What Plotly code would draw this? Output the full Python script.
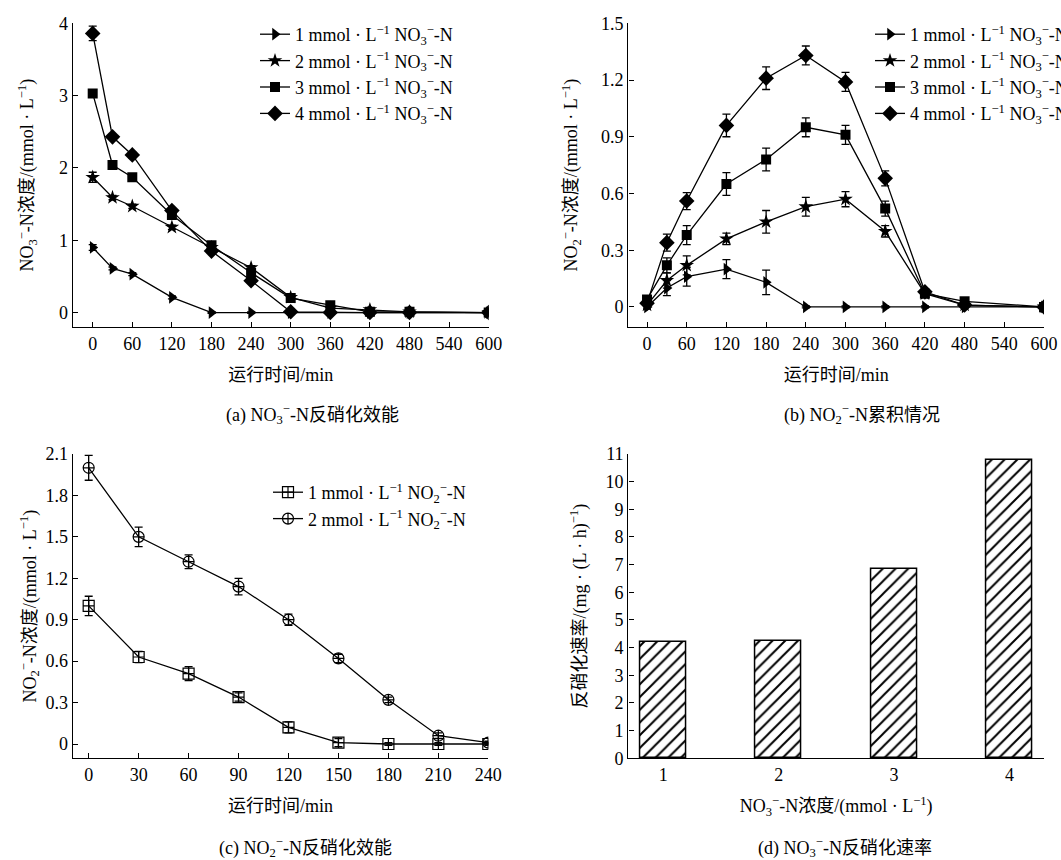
import plotly.graph_objects as go

W, H = 1061, 860
FONT = "Liberation Serif, 'Times New Roman', 'Noto Sans CJK SC', serif"

# ---------------- data ----------------
# (a) NO3- removal
t_a = [0, 30, 60, 120, 180, 240, 300, 360, 420, 480, 600]
a_1 = [0.90, 0.61, 0.53, 0.21, 0.00, 0.00, 0.00, 0.00, 0.00, 0.00, 0.00]
a_2 = [1.87, 1.59, 1.47, 1.18, 0.90, 0.62, 0.21, 0.06, 0.04, 0.01, 0.00]
a_3 = [3.03, 2.04, 1.87, 1.35, 0.93, 0.55, 0.20, 0.10, 0.01, 0.01, 0.00]
a_4 = [3.86, 2.43, 2.18, 1.41, 0.85, 0.44, 0.01, 0.00, 0.00, 0.00, 0.00]
a_1_err = [0.04, 0.02, 0.02, 0.02, 0.01, 0.01, 0.01, 0.01, 0.01, 0.01, 0.01]
a_2_err = [0.07, 0.03, 0.03, 0.03, 0.03, 0.03, 0.03, 0.02, 0.02, 0.01, 0.01]
a_3_err = [0.05, 0.02, 0.02, 0.03, 0.03, 0.03, 0.03, 0.02, 0.01, 0.01, 0.01]
a_4_err = [0.10, 0.03, 0.04, 0.03, 0.03, 0.03, 0.01, 0.01, 0.01, 0.01, 0.01]

# (b) NO2- accumulation
t_b = [0, 30, 60, 120, 180, 240, 300, 360, 420, 480, 600]
b_1 = [0.00, 0.10, 0.16, 0.20, 0.13, 0.00, 0.00, 0.00, 0.00, 0.00, 0.00]
b_2 = [0.01, 0.14, 0.22, 0.36, 0.45, 0.53, 0.57, 0.40, 0.07, 0.01, 0.00]
b_3 = [0.04, 0.22, 0.38, 0.65, 0.78, 0.95, 0.91, 0.52, 0.07, 0.03, 0.00]
b_4 = [0.02, 0.34, 0.56, 0.96, 1.21, 1.33, 1.19, 0.68, 0.08, 0.01, 0.00]
b_1_err = [0.01, 0.04, 0.05, 0.05, 0.065, 0.005, 0.005, 0.005, 0.005, 0.005, 0.005]
b_2_err = [0.01, 0.04, 0.05, 0.03, 0.06, 0.05, 0.04, 0.03, 0.01, 0.01, 0.005]
b_3_err = [0.01, 0.04, 0.05, 0.06, 0.06, 0.05, 0.05, 0.04, 0.01, 0.01, 0.005]
b_4_err = [0.01, 0.045, 0.045, 0.06, 0.06, 0.05, 0.05, 0.04, 0.01, 0.01, 0.005]

# (c) NO2- removal
t_c = [0, 30, 60, 90, 120, 150, 180, 210, 240]
c_1 = [1.00, 0.63, 0.51, 0.34, 0.12, 0.01, 0.00, 0.00, 0.00]
c_2 = [2.00, 1.50, 1.32, 1.14, 0.90, 0.62, 0.32, 0.06, 0.01]
c_1_err = [0.07, 0.04, 0.05, 0.03, 0.04, 0.03, 0.01, 0.01, 0.01]
c_2_err = [0.09, 0.07, 0.05, 0.06, 0.04, 0.03, 0.02, 0.02, 0.01]

# (d) denitrification rate
d_conc = [1, 2, 3, 4]
d_rate = [4.19, 4.25, 6.85, 10.77]

# tick labels
ticks_t600 = [0, 60, 120, 180, 240, 300, 360, 420, 480, 540, 600]
ticks_t240 = [0, 30, 60, 90, 120, 150, 180, 210, 240]
ticks_ya = [0, 1, 2, 3, 4]
ticks_yb = [0, 0.3, 0.6, 0.9, 1.2, 1.5]
ticks_yb_text = ["0", "0.3", "0.6", "0.9", "1.2", "1.5"]
ticks_yc = [0, 0.3, 0.6, 0.9, 1.2, 1.5, 1.8, 2.1]
ticks_yc_text = ["0", "0.3", "0.6", "0.9", "1.2", "1.5", "1.8", "2.1"]
ticks_yd = list(range(0, 12))

NO3 = "NO<sub>3</sub><sup>−</sup>-N"
NO2 = "NO<sub>2</sub><sup>−</sup>-N"
UNIT = "(mmol · L<sup>−1</sup>)"

# ---------------- figure ----------------
fig = go.Figure()

def px_x(p):
    return p / W

def px_y(p):
    return 1 - p / H

def err(arr):
    return dict(type="data", array=arr, visible=True, color="black", thickness=1.3, width=4)

LINE = dict(color="black", width=1.3)

# panel a
syms = ["triangle-right", "star", "square", "diamond"]
sizes = [11, 11, 10, 12]
for i, (ys, es) in enumerate([(a_1, a_1_err), (a_2, a_2_err), (a_3, a_3_err), (a_4, a_4_err)]):
    fig.add_trace(go.Scatter(
        x=t_a, y=ys, error_y=err(es), mode="lines+markers",
        line=LINE, marker=dict(symbol=syms[i], size=sizes[i], color="black"),
        name=f"{i+1} mmol · L<sup>−1</sup> {NO3}", xaxis="x", yaxis="y", legend="legend"))

# panel b
for i, (ys, es) in enumerate([(b_1, b_1_err), (b_2, b_2_err), (b_3, b_3_err), (b_4, b_4_err)]):
    fig.add_trace(go.Scatter(
        x=t_b, y=ys, error_y=err(es), mode="lines+markers",
        line=LINE, marker=dict(symbol=syms[i], size=sizes[i], color="black"),
        name=f"{i+1} mmol · L<sup>−1</sup> {NO3}", xaxis="x2", yaxis="y2", legend="legend2"))

# panel c
for i, (ys, es, sym) in enumerate([(c_1, c_1_err, "square-cross-open"), (c_2, c_2_err, "circle-cross-open")]):
    fig.add_trace(go.Scatter(
        x=t_c, y=ys, error_y=err(es), mode="lines+markers",
        line=LINE, marker=dict(symbol=sym, size=11, color="black", line=dict(color="black", width=1.2)),
        name=f"{i+1} mmol · L<sup>−1</sup> {NO2}", xaxis="x3", yaxis="y3", legend="legend3"))

# panel d
fig.add_trace(go.Bar(
    x=d_conc, y=d_rate, width=0.4, xaxis="x4", yaxis="y4", showlegend=False,
    marker=dict(color="white", line=dict(color="black", width=1.5),
                pattern=dict(shape="/", fgcolor="black", bgcolor="white", fgopacity=1,
                             size=9, solidity=0.22))))

tickfont = dict(family=FONT, size=18, color="black")
axis_common = dict(showline=True, linecolor="black", linewidth=1.4, ticks="inside", ticklen=5,
                   tickcolor="black", tickwidth=1.2, showgrid=False, zeroline=False,
                   tickfont=tickfont, mirror=False)

def xax(dom, anchor, rng, tv, tt=None, title="", ticks="inside"):
    d = dict(axis_common)
    d.update(domain=dom, anchor=anchor, range=rng, tickmode="array", tickvals=tv,
             ticktext=tt if tt else [str(v) for v in tv], ticks=ticks,
             title=dict(text=title, font=dict(family=FONT, size=18, color="black"), standoff=15))
    return d

def yax(dom, anchor, rng, tv, tt, title, standoff):
    d = dict(axis_common)
    d.update(domain=dom, anchor=anchor, range=rng, tickmode="array", tickvals=tv, ticktext=tt,
             title=dict(text=title, font=dict(family=FONT, size=18, color="black"), standoff=standoff))
    return d

xa_dom = [px_x(72.7), px_x(488.7)]
xb_dom = [px_x(628.3), px_x(1044)]
xc_dom = [px_x(72.7), px_x(488.3)]
xd_dom = [px_x(628.3), px_x(1044)]
ytop_dom = [px_y(327), px_y(23.3)]
ybot_dom = [px_y(758.3), px_y(454)]

fig.update_layout(
    width=W, height=H,
    margin=dict(l=0, r=0, t=0, b=0, autoexpand=False),
    paper_bgcolor="white", plot_bgcolor="white",
    font=dict(family=FONT, size=18, color="black"),
    xaxis=xax(xa_dom, "y", [-30.3, 600], ticks_t600, title="运行时间/min"),
    yaxis=yax(ytop_dom, "x", [-0.2, 4], ticks_ya, [str(v) for v in ticks_ya],
              f"{NO3}浓度/{UNIT}", 20),
    xaxis2=xax(xb_dom, "y2", [-28.3, 600], ticks_t600, title="运行时间/min"),
    yaxis2=yax(ytop_dom, "x2", [-0.106, 1.5], ticks_yb, ticks_yb_text,
               f"{NO2}浓度/{UNIT}", 18),
    xaxis3=xax(xc_dom, "y3", [-9.6, 240], ticks_t240, title="运行时间/min"),
    yaxis3=yax(ybot_dom, "x3", [-0.1035, 2.1], ticks_yc, ticks_yc_text,
               f"{NO2}浓度/{UNIT}", 4),
    xaxis4=xax(xd_dom, "y4", [0.696, 4.30], d_conc, title=f"{NO3}浓度/{UNIT}", ticks=""),
    yaxis4=yax(ybot_dom, "x4", [0, 11], ticks_yd, [str(v) for v in ticks_yd],
               "反硝化速率/(mg · (L · h)<sup>−1</sup>)", 14),
    legend=dict(x=px_x(255), y=px_y(16), xanchor="left", yanchor="top", bgcolor="rgba(0,0,0,0)",
                font=dict(family=FONT, size=18, color="black"), tracegroupgap=0),
    legend2=dict(x=px_x(870), y=px_y(16), xanchor="left", yanchor="top", bgcolor="rgba(0,0,0,0)",
                 font=dict(family=FONT, size=18, color="black"), tracegroupgap=0),
    legend3=dict(x=px_x(268), y=px_y(474), xanchor="left", yanchor="top", bgcolor="rgba(0,0,0,0)",
                 font=dict(family=FONT, size=18, color="black"), tracegroupgap=0),
    bargap=0,
)

captions = [
    (312, 414, f"(a) {NO3}反硝化效能"),
    (862, 414, f"(b) {NO2}累积情况"),
    (305, 847, f"(c) {NO2}反硝化效能"),
    (845, 847, f"(d) {NO3}反硝化速率"),
]
for cx, cy, txt in captions:
    fig.add_annotation(x=px_x(cx), y=px_y(cy), xref="paper", yref="paper", text=txt,
                       showarrow=False, xanchor="center", yanchor="middle",
                       font=dict(family=FONT, size=18, color="black"))

fig.write_html("out.html", config={"displayModeBar": False},
               post_script="document.body.style.margin='0';document.body.style.overflow='hidden';")
